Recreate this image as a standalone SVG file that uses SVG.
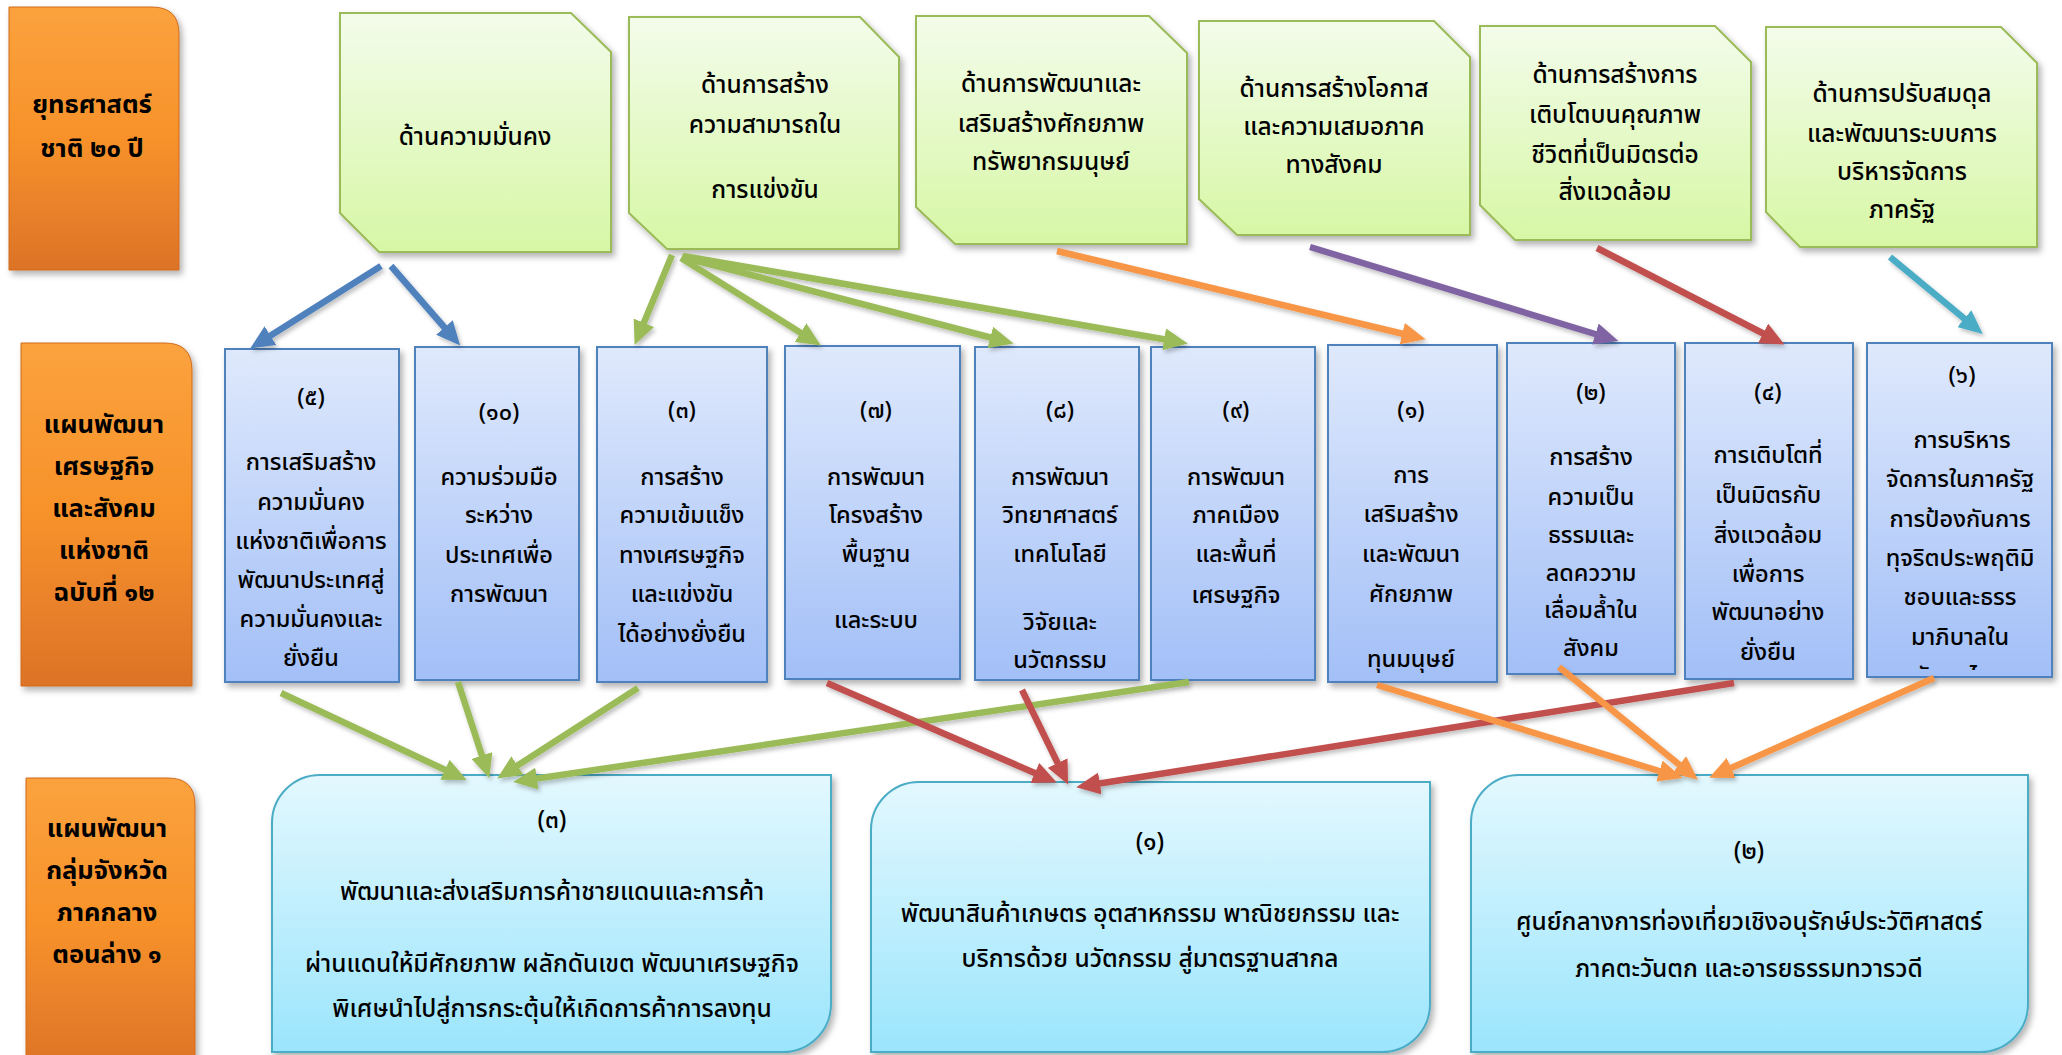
<svg xmlns="http://www.w3.org/2000/svg" width="2062" height="1055" viewBox="0 0 2062 1055">
<defs>
<style>
.t{font-family:"Noto Sans Thai","Loma","Garuda","Tlwg Typo","Noto Sans","DejaVu Sans",sans-serif;fill:#000;text-anchor:middle;font-weight:500;}
.ot{font-size:25.5px;font-weight:bold;}
.gt{font-size:24.5px;}
.bt{font-size:23.5px;}
.ct{font-size:24.5px;}
.ob{fill:url(#og);stroke:#D06A1C;stroke-width:1;filter:url(#sh);}
.gb{fill:url(#gg);stroke:#9BBB59;stroke-width:2;filter:url(#sh);}
.bb{fill:url(#bg);stroke:#4F81BD;stroke-width:2;filter:url(#sh);}
.cb{fill:url(#cg);stroke:#4BACC6;stroke-width:2;filter:url(#sh);}
.ln{stroke-width:6.5;fill:none;}
</style>
<linearGradient id="og" x1="0" y1="0" x2="0" y2="1"><stop offset="0" stop-color="#FBA23E"/><stop offset="0.5" stop-color="#F7922A"/><stop offset="1" stop-color="#DC7328"/></linearGradient>
<linearGradient id="gg" x1="0" y1="0" x2="0" y2="1"><stop offset="0" stop-color="#F3FCEB"/><stop offset="1" stop-color="#D7F7A5"/></linearGradient>
<linearGradient id="bg" x1="0" y1="0" x2="0" y2="1"><stop offset="0" stop-color="#DFE9FC"/><stop offset="1" stop-color="#A2BFF7"/></linearGradient>
<linearGradient id="cg" x1="0" y1="0" x2="0" y2="1"><stop offset="0" stop-color="#E3F8FE"/><stop offset="1" stop-color="#9BE5FC"/></linearGradient>
<filter id="sh" x="-10%" y="-10%" width="120%" height="120%"><feDropShadow dx="3" dy="4" stdDeviation="3" flood-color="#000" flood-opacity="0.3"/></filter>
<filter id="lsh" x="-10%" y="-10%" width="120%" height="120%"><feDropShadow dx="2" dy="3" stdDeviation="2" flood-color="#000" flood-opacity="0.25"/></filter>
<clipPath id="c6"><rect x="1867" y="343" width="186" height="327"/></clipPath>
<marker id="mB" viewBox="0 0 24 22" refX="10" refY="11" markerWidth="24" markerHeight="22" markerUnits="userSpaceOnUse" orient="auto"><path d="M0,0 L24,11 L0,22 Z" fill="#4F81BD"/></marker>
<marker id="mG" viewBox="0 0 24 22" refX="10" refY="11" markerWidth="24" markerHeight="22" markerUnits="userSpaceOnUse" orient="auto"><path d="M0,0 L24,11 L0,22 Z" fill="#9BBB59"/></marker>
<marker id="mO" viewBox="0 0 24 22" refX="10" refY="11" markerWidth="24" markerHeight="22" markerUnits="userSpaceOnUse" orient="auto"><path d="M0,0 L24,11 L0,22 Z" fill="#F79646"/></marker>
<marker id="mP" viewBox="0 0 24 22" refX="10" refY="11" markerWidth="24" markerHeight="22" markerUnits="userSpaceOnUse" orient="auto"><path d="M0,0 L24,11 L0,22 Z" fill="#8064A2"/></marker>
<marker id="mR" viewBox="0 0 24 22" refX="10" refY="11" markerWidth="24" markerHeight="22" markerUnits="userSpaceOnUse" orient="auto"><path d="M0,0 L24,11 L0,22 Z" fill="#C0504D"/></marker>
<marker id="mT" viewBox="0 0 24 22" refX="10" refY="11" markerWidth="24" markerHeight="22" markerUnits="userSpaceOnUse" orient="auto"><path d="M0,0 L24,11 L0,22 Z" fill="#4BACC6"/></marker>
</defs>
<rect width="2062" height="1055" fill="#fff"/>

<!-- row labels -->
<g id="label-strategy">
<path class="ob" d="M9,7 H152 Q179,7 179,34 V270 H9 Z"/>
<text class="t ot"><tspan x="92" y="113">ยุทธศาสตร์</tspan><tspan x="92" y="157">ชาติ ๒๐ ปี</tspan></text>
</g>
<g id="label-plan12">
<path class="ob" d="M21,343 H165 Q192,343 192,370 V686 H21 Z"/>
<text class="t ot"><tspan x="104" y="433">แผนพัฒนา</tspan><tspan x="104" y="475">เศรษฐกิจ</tspan><tspan x="104" y="517">และสังคม</tspan><tspan x="104" y="559">แห่งชาติ</tspan><tspan x="104" y="601">ฉบับที่ ๑๒</tspan></text>
</g>
<g id="label-cluster">
<path class="ob" d="M26,778 H168 Q195,778 195,805 V1070 H26 Z"/>
<text class="t ot"><tspan x="107" y="837">แผนพัฒนา</tspan><tspan x="107" y="879">กลุ่มจังหวัด</tspan><tspan x="107" y="921">ภาคกลาง</tspan><tspan x="107" y="963">ตอนล่าง ๑</tspan></text>
</g>

<!-- strategy nodes -->
<g id="s1"><path class="gb" d="M340,13 H571 L611,52 V252 H379 L340,213 Z"/>
<text class="t gt"><tspan x="475" y="145">ด้านความมั่นคง</tspan></text></g>
<g id="s2"><path class="gb" d="M629,17 H860 L899,57 V249 H667 L629,213 Z"/>
<text class="t gt"><tspan x="765" y="93">ด้านการสร้าง</tspan><tspan x="765" y="133">ความสามารถใน</tspan><tspan x="765" y="198">การแข่งขัน</tspan></text></g>
<g id="s3"><path class="gb" d="M916,16 H1149 L1187,53 V244 H955 L916,207 Z"/>
<text class="t gt"><tspan x="1051" y="92">ด้านการพัฒนาและ</tspan><tspan x="1051" y="132">เสริมสร้างศักยภาพ</tspan><tspan x="1051" y="170">ทรัพยากรมนุษย์</tspan></text></g>
<g id="s4"><path class="gb" d="M1199,21 H1434 L1470,57 V235 H1237 L1199,199 Z"/>
<text class="t gt"><tspan x="1334" y="97">ด้านการสร้างโอกาส</tspan><tspan x="1334" y="135">และความเสมอภาค</tspan><tspan x="1334" y="173">ทางสังคม</tspan></text></g>
<g id="s5"><path class="gb" d="M1480,26 H1715 L1751,62 V240 H1515 L1480,205 Z"/>
<text class="t gt"><tspan x="1615" y="83">ด้านการสร้างการ</tspan><tspan x="1615" y="123">เติบโตบนคุณภาพ</tspan><tspan x="1615" y="163">ชีวิตที่เป็นมิตรต่อ</tspan><tspan x="1615" y="200">สิ่งแวดล้อม</tspan></text></g>
<g id="s6"><path class="gb" d="M1766,27 H2001 L2037,63 V247 H1800 L1766,212 Z"/>
<text class="t gt"><tspan x="1902" y="102">ด้านการปรับสมดุล</tspan><tspan x="1902" y="142">และพัฒนาระบบการ</tspan><tspan x="1902" y="180">บริหารจัดการ</tspan><tspan x="1902" y="218">ภาครัฐ</tspan></text></g>

<!-- plan 12 strategies -->
<g id="p5"><rect class="bb" x="225" y="349" width="174" height="333"/>
<text class="t bt"><tspan x="311" y="405">(๕)</tspan><tspan x="311" y="470">การเสริมสร้าง</tspan><tspan x="311" y="510">ความมั่นคง</tspan><tspan x="311" y="549">แห่งชาติเพื่อการ</tspan><tspan x="311" y="588">พัฒนาประเทศสู่</tspan><tspan x="311" y="627">ความมั่นคงและ</tspan><tspan x="311" y="666">ยั่งยืน</tspan></text></g>
<g id="p10"><rect class="bb" x="415" y="347" width="164" height="333"/>
<text class="t bt"><tspan x="499" y="420">(๑๐)</tspan><tspan x="499" y="485">ความร่วมมือ</tspan><tspan x="499" y="523">ระหว่าง</tspan><tspan x="499" y="563">ประเทศเพื่อ</tspan><tspan x="499" y="602">การพัฒนา</tspan></text></g>
<g id="p3"><rect class="bb" x="597" y="347" width="170" height="335"/>
<text class="t bt"><tspan x="682" y="418">(๓)</tspan><tspan x="682" y="485">การสร้าง</tspan><tspan x="682" y="523">ความเข้มแข็ง</tspan><tspan x="682" y="563">ทางเศรษฐกิจ</tspan><tspan x="682" y="602">และแข่งขัน</tspan><tspan x="682" y="642">ได้อย่างยั่งยืน</tspan></text></g>
<g id="p7"><rect class="bb" x="785" y="346" width="175" height="333"/>
<text class="t bt"><tspan x="876" y="418">(๗)</tspan><tspan x="876" y="485">การพัฒนา</tspan><tspan x="876" y="523">โครงสร้าง</tspan><tspan x="876" y="562">พื้นฐาน</tspan><tspan x="876" y="628">และระบบ</tspan></text></g>
<g id="p8"><rect class="bb" x="975" y="347" width="164" height="333"/>
<text class="t bt"><tspan x="1060" y="418">(๘)</tspan><tspan x="1060" y="485">การพัฒนา</tspan><tspan x="1060" y="523">วิทยาศาสตร์</tspan><tspan x="1060" y="562">เทคโนโลยี</tspan><tspan x="1060" y="630">วิจัยและ</tspan><tspan x="1060" y="668">นวัตกรรม</tspan></text></g>
<g id="p9"><rect class="bb" x="1151" y="347" width="164" height="333"/>
<text class="t bt"><tspan x="1236" y="418">(๙)</tspan><tspan x="1236" y="485">การพัฒนา</tspan><tspan x="1236" y="523">ภาคเมือง</tspan><tspan x="1236" y="562">และพื้นที่</tspan><tspan x="1236" y="603">เศรษฐกิจ</tspan></text></g>
<g id="p1"><rect class="bb" x="1328" y="345" width="169" height="337"/>
<text class="t bt"><tspan x="1411" y="418">(๑)</tspan><tspan x="1411" y="483">การ</tspan><tspan x="1411" y="522">เสริมสร้าง</tspan><tspan x="1411" y="562">และพัฒนา</tspan><tspan x="1411" y="602">ศักยภาพ</tspan><tspan x="1411" y="667">ทุนมนุษย์</tspan></text></g>
<g id="p2"><rect class="bb" x="1507" y="343" width="168" height="331"/>
<text class="t bt"><tspan x="1591" y="400">(๒)</tspan><tspan x="1591" y="465">การสร้าง</tspan><tspan x="1591" y="505">ความเป็น</tspan><tspan x="1591" y="543">ธรรมและ</tspan><tspan x="1591" y="581">ลดคววาม</tspan><tspan x="1591" y="618">เลื่อมล้ำใน</tspan><tspan x="1591" y="656">สังคม</tspan></text></g>
<g id="p4"><rect class="bb" x="1685" y="343" width="168" height="336"/>
<text class="t bt"><tspan x="1768" y="400">(๔)</tspan><tspan x="1768" y="463">การเติบโตที่</tspan><tspan x="1768" y="503">เป็นมิตรกับ</tspan><tspan x="1768" y="543">สิ่งแวดล้อม</tspan><tspan x="1768" y="582">เพื่อการ</tspan><tspan x="1768" y="620">พัฒนาอย่าง</tspan><tspan x="1768" y="660">ยั่งยืน</tspan></text></g>
<g id="p6"><rect class="bb" x="1867" y="343" width="185" height="334"/>
<text class="t bt" clip-path="url(#c6)"><tspan x="1962" y="383">(๖)</tspan><tspan x="1962" y="448">การบริหาร</tspan><tspan x="1960" y="487">จัดการในภาครัฐ</tspan><tspan x="1960" y="527">การป้องกันการ</tspan><tspan x="1960" y="566">ทุจริตประพฤติมิ</tspan><tspan x="1960" y="605">ชอบและธรร</tspan><tspan x="1960" y="645">มาภิบาลใน</tspan><tspan x="1960" y="684">สังคมไทย</tspan></text></g>

<!-- cluster strategies -->
<g id="c3"><path class="cb" d="M272,823 A48,48 0 0 1 320,775 H831 V1004 A48,48 0 0 1 783,1052 H272 Z"/>
<text class="t ct"><tspan x="552" y="828">(๓)</tspan><tspan x="552" y="900">พัฒนาและส่งเสริมการค้าชายแดนและการค้า</tspan><tspan x="552" y="972">ผ่านแดนให้มีศักยภาพ ผลักดันเขต พัฒนาเศรษฐกิจ</tspan><tspan x="552" y="1017">พิเศษนำไปสู่การกระตุ้นให้เกิดการค้าการลงทุน</tspan></text></g>
<g id="c1"><path class="cb" d="M871,830 A48,48 0 0 1 919,782 H1430 V1004 A48,48 0 0 1 1382,1052 H871 Z"/>
<text class="t ct"><tspan x="1150" y="850">(๑)</tspan><tspan x="1150" y="922">พัฒนาสินค้าเกษตร อุตสาหกรรม พาณิชยกรรม และ</tspan><tspan x="1150" y="967">บริการด้วย นวัตกรรม สู่มาตรฐานสากล</tspan></text></g>
<g id="c2"><path class="cb" d="M1471,823 A48,48 0 0 1 1519,775 H2028 V1004 A48,48 0 0 1 1980,1052 H1471 Z"/>
<text class="t ct"><tspan x="1749" y="859">(๒)</tspan><tspan x="1749" y="930">ศูนย์กลางการท่องเที่ยวเชิงอนุรักษ์ประวัติศาสตร์</tspan><tspan x="1749" y="977">ภาคตะวันตก และอารยธรรมทวารวดี</tspan></text></g>

<!-- connectors -->
<g id="connectors" filter="url(#lsh)">
<line class="ln" stroke="#4F81BD" marker-end="url(#mB)" x1="381" y1="266" x2="262" y2="341"/>
<line class="ln" stroke="#4F81BD" marker-end="url(#mB)" x1="391" y1="266" x2="451" y2="335"/>
<line class="ln" stroke="#9BBB59" marker-end="url(#mG)" x1="672" y1="255" x2="640" y2="332"/>
<line class="ln" stroke="#9BBB59" marker-end="url(#mG)" x1="681" y1="258" x2="809" y2="338"/>
<line class="ln" stroke="#9BBB59" marker-end="url(#mG)" x1="682" y1="257" x2="1000" y2="340"/>
<line class="ln" stroke="#9BBB59" marker-end="url(#mG)" x1="683" y1="256" x2="1174" y2="341"/>
<line class="ln" stroke="#F79646" marker-end="url(#mO)" x1="1057" y1="251" x2="1412" y2="336"/>
<line class="ln" stroke="#8064A2" marker-end="url(#mP)" x1="1310" y1="247" x2="1605" y2="337"/>
<line class="ln" stroke="#C0504D" marker-end="url(#mR)" x1="1597" y1="248" x2="1772" y2="338"/>
<line class="ln" stroke="#4BACC6" marker-end="url(#mT)" x1="1890" y1="257" x2="1972" y2="325"/>
<line class="ln" stroke="#9BBB59" marker-end="url(#mG)" x1="281" y1="693" x2="454" y2="774"/>
<line class="ln" stroke="#9BBB59" marker-end="url(#mG)" x1="458" y1="682" x2="485" y2="765"/>
<line class="ln" stroke="#9BBB59" marker-end="url(#mG)" x1="638" y1="688" x2="509" y2="771"/>
<line class="ln" stroke="#9BBB59" marker-end="url(#mG)" x1="1189" y1="682" x2="527" y2="780"/>
<line class="ln" stroke="#C0504D" marker-end="url(#mR)" x1="827" y1="683" x2="1044" y2="777"/>
<line class="ln" stroke="#C0504D" marker-end="url(#mR)" x1="1022" y1="690" x2="1062" y2="772"/>
<line class="ln" stroke="#C0504D" marker-end="url(#mR)" x1="1734" y1="683" x2="1090" y2="785"/>
<line class="ln" stroke="#F79646" marker-end="url(#mO)" x1="1377" y1="685" x2="1669" y2="774"/>
<line class="ln" stroke="#F79646" marker-end="url(#mO)" x1="1559" y1="667" x2="1687" y2="771"/>
<line class="ln" stroke="#F79646" marker-end="url(#mO)" x1="1934" y1="678" x2="1722" y2="772"/>
</g>
</svg>
